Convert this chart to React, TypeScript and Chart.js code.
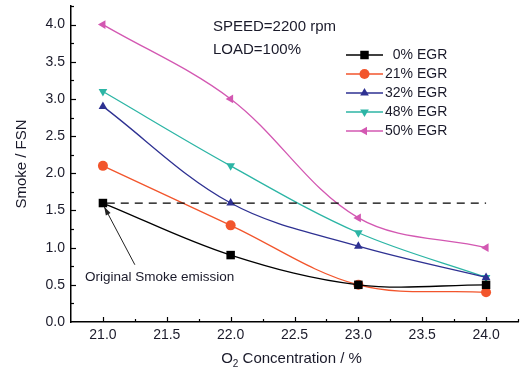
import React, { useEffect, useRef } from "react";
import { Chart, registerables } from "chart.js";

Chart.register(...registerables);

const o2 = [21.0, 22.0, 23.0, 24.0];
const egr0 = [1.6, 0.9, 0.5, 0.5];
const egr21 = [2.1, 1.3, 0.5, 0.4];
const egr32 = [2.9, 1.6, 1.02, 0.6];
const egr48 = [3.1, 2.1, 1.2, 0.6];
const egr50 = [4.0, 3.0, 1.4, 1.0];
const seriesLabels = ["0%", "21%", "32%", "48%", "50%"];
const seriesColors = ["#000000", "#f2552c", "#2e3192", "#2cb5a5", "#d358b2"];
const seriesStyles = ["rect", "circle", "triangle", "triangle", "triangle"];
const seriesRot = [0, 0, 0, 180, 270];
const yTicks = [0, 0.5, 1.0, 1.5, 2.0, 2.5, 3.0, 3.5, 4.0];
const xTicks = [21.0, 21.5, 22.0, 22.5, 23.0, 23.5, 24.0];
const originalSmoke = 1.6;
const annotText = "Original Smoke emission";
const annotArrowFrom = { x: 21.25, y: 0.77 };
const annotArrowTo = { x: 21.01, y: 1.55 };
const annotTextPos = { x: 20.86, y: 0.6 };

const FONT = "'Liberation Sans', Arial, sans-serif";

function marker(ctx: CanvasRenderingContext2D, style: string, rot: number, x: number, y: number, r: number, color: string) {
  ctx.save();
  ctx.fillStyle = color;
  ctx.beginPath();
  if (style === "rect") {
    const s = r / Math.SQRT2;
    ctx.rect(x - s, y - s, 2 * s, 2 * s);
  } else if (style === "circle") {
    ctx.arc(x, y, r, 0, Math.PI * 2);
  } else {
    const rad = (rot * Math.PI) / 180;
    for (let i = 0; i < 3; i++) {
      const a = rad + (i * 2 * Math.PI) / 3;
      const px = x + Math.sin(a) * r;
      const py = y - Math.cos(a) * r;
      if (i === 0) ctx.moveTo(px, py);
      else ctx.lineTo(px, py);
    }
    ctx.closePath();
  }
  ctx.fill();
  ctx.restore();
}

const decorPlugin = {
  id: "decor",
  afterDatasetsDraw(chart: any) {
    const ctx: CanvasRenderingContext2D = chart.ctx;
    const xs = chart.scales.x;
    const ys = chart.scales.y;
    const area = chart.chartArea;
    ctx.save();
    // inward ticks
    ctx.strokeStyle = "#000";
    ctx.lineWidth = 1.2;
    for (let v = 0.25; v <= 4.26; v += 0.25) {
      const major = Math.abs(v * 2 - Math.round(v * 2)) < 1e-6;
      const py = Math.round(ys.getPixelForValue(v)) + 0.5;
      ctx.beginPath();
      ctx.moveTo(area.left, py);
      ctx.lineTo(area.left + (major ? 5 : 3), py);
      ctx.stroke();
    }
    for (let v = 21.0; v <= 24.26; v += 0.25) {
      const major = Math.abs(v * 2 - Math.round(v * 2)) < 1e-6;
      const px = Math.round(xs.getPixelForValue(v)) + 0.5;
      ctx.beginPath();
      ctx.moveTo(px, area.bottom);
      ctx.lineTo(px, area.bottom - (major ? 5 : 3));
      ctx.stroke();
    }
    // dashed reference line
    ctx.setLineDash([8, 6]);
    ctx.lineWidth = 1.3;
    ctx.beginPath();
    const dy = ys.getPixelForValue(originalSmoke);
    ctx.moveTo(xs.getPixelForValue(21.03), dy);
    ctx.lineTo(xs.getPixelForValue(24.0), dy);
    ctx.stroke();
    ctx.setLineDash([]);
    // arrow
    const ax0 = xs.getPixelForValue(annotArrowFrom.x);
    const ay0 = ys.getPixelForValue(annotArrowFrom.y);
    const ax1 = xs.getPixelForValue(annotArrowTo.x);
    const ay1 = ys.getPixelForValue(annotArrowTo.y);
    ctx.strokeStyle = "#222";
    ctx.lineWidth = 1;
    ctx.beginPath();
    ctx.moveTo(ax0, ay0);
    ctx.lineTo(ax1, ay1);
    ctx.stroke();
    const ang = Math.atan2(ay1 - ay0, ax1 - ax0);
    ctx.fillStyle = "#222";
    ctx.beginPath();
    ctx.moveTo(ax1, ay1);
    ctx.lineTo(ax1 - 9 * Math.cos(ang - 0.3), ay1 - 9 * Math.sin(ang - 0.3));
    ctx.lineTo(ax1 - 9 * Math.cos(ang + 0.3), ay1 - 9 * Math.sin(ang + 0.3));
    ctx.closePath();
    ctx.fill();
    // annotation text
    ctx.fillStyle = "#1a1a2a";
    ctx.font = "13.5px " + FONT;
    ctx.textBaseline = "middle";
    ctx.textAlign = "left";
    ctx.fillText(annotText, xs.getPixelForValue(annotTextPos.x), ys.getPixelForValue(annotTextPos.y));
    // condition text
    ctx.font = "15px " + FONT;
    ctx.fillText("SPEED=2200 rpm", 213, 27);
    ctx.fillText("LOAD=100%", 213, 50);
    // legend
    ctx.font = "14px " + FONT;
    for (let i = 0; i < seriesLabels.length; i++) {
      const ly = 55 + i * 19;
      ctx.strokeStyle = seriesColors[i];
      ctx.lineWidth = 1.3;
      ctx.beginPath();
      ctx.moveTo(346, ly);
      ctx.lineTo(383, ly);
      ctx.stroke();
      marker(ctx, seriesStyles[i], seriesRot[i], 364.5, ly, i === 0 ? 6 : 5, seriesColors[i]);
      ctx.fillStyle = "#1a1a2a";
      ctx.textAlign = "right";
      ctx.fillText(seriesLabels[i], 413, ly);
      ctx.textAlign = "left";
      ctx.fillText("EGR", 417, ly);
    }
    // axis titles
    ctx.font = "15px " + FONT;
    ctx.textAlign = "center";
    ctx.save();
    ctx.translate(22, (area.top + area.bottom) / 2);
    ctx.rotate(-Math.PI / 2);
    ctx.fillText("Smoke / FSN", 0, 0);
    ctx.restore();
    const rest = " Concentration / %";
    ctx.textAlign = "left";
    const wO = ctx.measureText("O").width;
    const wRest = ctx.measureText(rest).width;
    ctx.font = "10px " + FONT;
    const w2 = ctx.measureText("2").width;
    const total = wO + w2 + wRest;
    const cx = (area.left + area.right) / 2 - 3;
    let sx = cx - total / 2;
    const ty = 359;
    ctx.font = "15px " + FONT;
    ctx.fillText("O", sx, ty);
    sx += wO;
    ctx.font = "10px " + FONT;
    ctx.fillText("2", sx, ty + 5);
    sx += w2;
    ctx.font = "15px " + FONT;
    ctx.fillText(rest, sx, ty);
    ctx.restore();
  },
};

export default function App() {
  const ref = useRef<HTMLCanvasElement | null>(null);
  useEffect(() => {
    if (!ref.current) return;
    const all = [egr0, egr21, egr32, egr48, egr50];
    const chart = new Chart(ref.current, {
      type: "line",
      data: {
        datasets: all.map((arr, i) => ({
          label: seriesLabels[i] + " EGR",
          data: arr.map((v, j) => ({ x: o2[j], y: v })),
          borderColor: seriesColors[i],
          backgroundColor: seriesColors[i],
          borderWidth: 1.3,
          pointStyle: seriesStyles[i] as any,
          pointRotation: seriesRot[i],
          pointRadius: i === 0 ? 6 : 5,
          pointBorderWidth: 0,
          tension: 0.35,
          fill: false,
        })),
      },
      plugins: [decorPlugin],
      options: {
        animation: false,
        responsive: false,
        devicePixelRatio: 1,
        layout: { padding: { left: 0, top: 6, right: 5, bottom: 0 } },
        plugins: { legend: { display: false }, tooltip: { enabled: false } },
        scales: {
          x: {
            type: "linear",
            min: 20.75,
            max: 24.25,
            afterFit: (s: any) => { s.height = 52; s.paddingLeft = 0; s.paddingRight = 0; },
            afterBuildTicks: (s: any) => { s.ticks = xTicks.map((v) => ({ value: v })); },
            grid: { display: true, drawOnChartArea: false, drawTicks: false },
            border: { display: true, color: "#000", width: 1.5 },
            ticks: {
              padding: 5,
              color: "#1a1a2a",
              font: { family: FONT, size: 14 },
              callback: (v: any) => Number(v).toFixed(1),
            },
          },
          y: {
            type: "linear",
            min: 0,
            max: 4.25,
            afterFit: (s: any) => { s.width = 71; s.paddingTop = 0; s.paddingBottom = 0; },
            afterBuildTicks: (s: any) => { s.ticks = yTicks.map((v) => ({ value: v })); },
            grid: { display: true, drawOnChartArea: false, drawTicks: false },
            border: { display: true, color: "#000", width: 1.5 },
            ticks: {
              padding: 6,
              color: "#1a1a2a",
              font: { family: FONT, size: 14 },
              callback: (v: any) => Number(v).toFixed(1),
            },
          },
        },
      },
    });
    return () => chart.destroy();
  }, []);
  return (
    <div style={{ position: "absolute", left: 0, top: 0, width: 524, height: 374, background: "#fff" }}>
      <canvas ref={ref} width={524} height={374} />
    </div>
  );
}
